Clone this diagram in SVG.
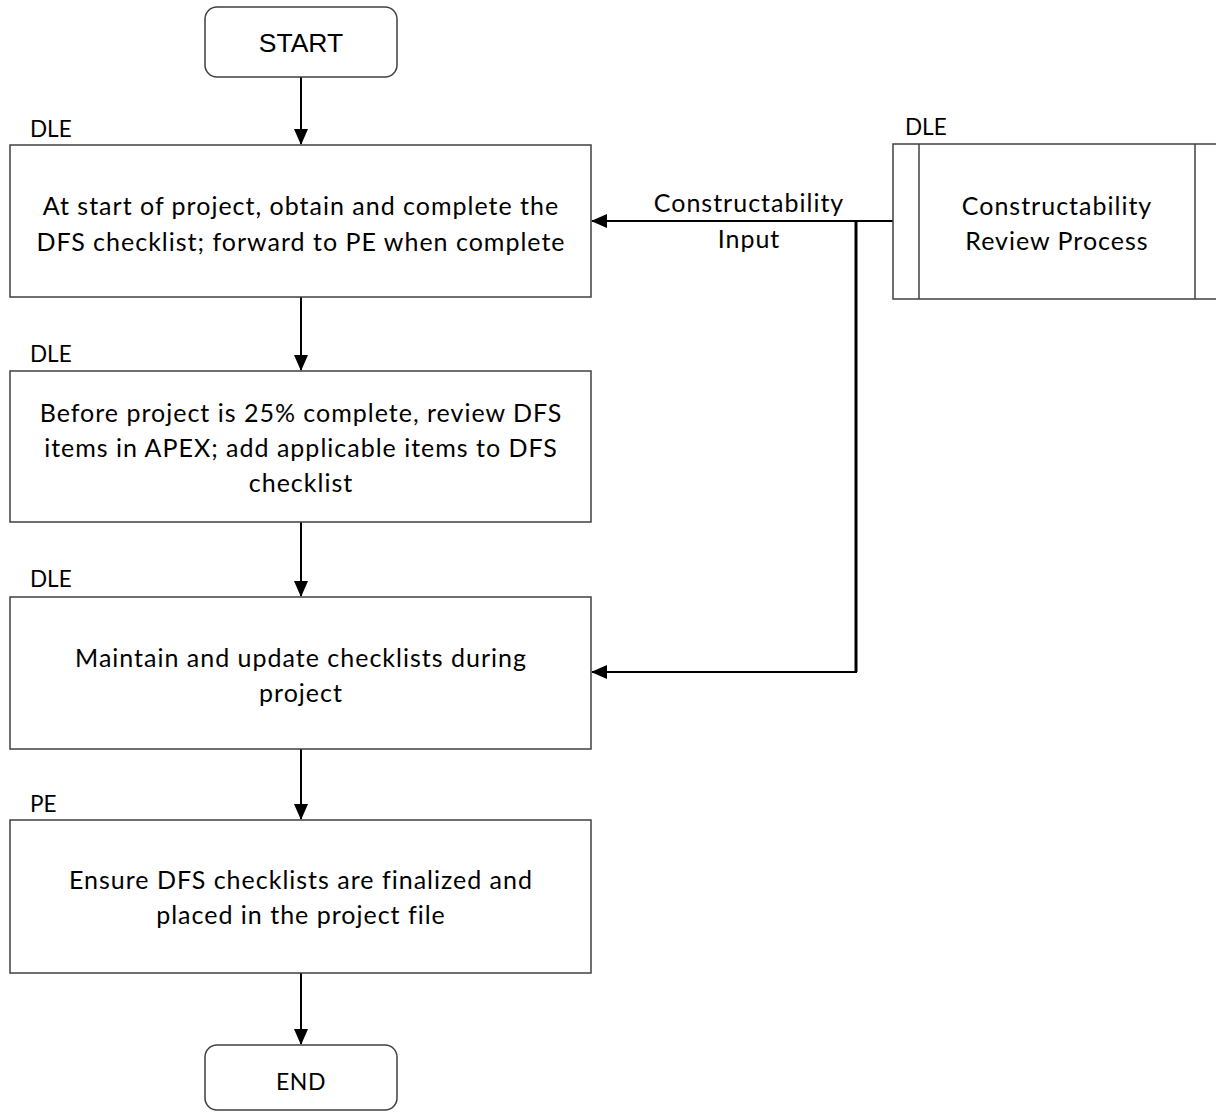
<svg xmlns="http://www.w3.org/2000/svg" width="1216" height="1112" viewBox="0 0 1216 1112">
<style>
.box{fill:#fff;stroke:#404040;stroke-width:1.5}
.t{font-family:Lato,"Liberation Sans",sans-serif;font-size:25px;letter-spacing:1px;fill:#000;text-anchor:middle}
.lbl{font-family:Lato,"Liberation Sans",sans-serif;font-size:22.5px;fill:#000}
.a{fill:none;stroke:#000;stroke-width:2}
.ts{font-family:"Liberation Sans",Arial,sans-serif;font-size:26.5px;fill:#000;text-anchor:middle}
</style>
<defs>
<marker id="ah" markerWidth="16" markerHeight="14" refX="15" refY="7" orient="auto" markerUnits="userSpaceOnUse">
<path d="M0,0 L16,7 L0,14 Z" fill="#000"/>
</marker>
</defs>
<g id="connectors">
<line class="a" x1="301" y1="77" x2="301" y2="144" marker-end="url(#ah)"/>
<line class="a" x1="301" y1="297" x2="301" y2="370" marker-end="url(#ah)"/>
<line class="a" x1="301" y1="522" x2="301" y2="596" marker-end="url(#ah)"/>
<line class="a" x1="301" y1="749" x2="301" y2="819" marker-end="url(#ah)"/>
<line class="a" x1="301" y1="973" x2="301" y2="1044" marker-end="url(#ah)"/>
<line class="a" x1="893" y1="221" x2="592" y2="221" marker-end="url(#ah)"/>
<polyline fill="none" stroke="#000" stroke-width="3" points="856,221 856,672"/>
<line class="a" x1="857" y1="672" x2="592" y2="672" marker-end="url(#ah)"/>
<text class="t" x="749" y="212">Constructability</text>
<text class="t" x="749" y="248">Input</text>
</g>
<g id="start">
<rect class="box" x="205" y="7" width="192" height="70" rx="12"/>
<text class="ts" x="301" y="52">START</text>
</g>
<g id="step1">
<text class="lbl" x="30" y="137">DLE</text>
<rect class="box" x="10" y="145" width="581" height="152"/>
<text class="t" x="301" y="215">At start of project, obtain and complete the</text>
<text class="t" x="301" y="251">DFS checklist; forward to PE when complete</text>
</g>
<g id="step2">
<text class="lbl" x="30" y="362">DLE</text>
<rect class="box" x="10" y="371" width="581" height="151"/>
<text class="t" x="301" y="422">Before project is 25% complete, review DFS</text>
<text class="t" x="301" y="457">items in APEX; add applicable items to DFS</text>
<text class="t" x="301" y="492">checklist</text>
</g>
<g id="step3">
<text class="lbl" x="30" y="587">DLE</text>
<rect class="box" x="10" y="597" width="581" height="152"/>
<text class="t" x="301" y="667">Maintain and update checklists during</text>
<text class="t" x="301" y="702">project</text>
</g>
<g id="step4">
<text class="lbl" x="30" y="812">PE</text>
<rect class="box" x="10" y="820" width="581" height="153"/>
<text class="t" x="301" y="889">Ensure DFS checklists are finalized and</text>
<text class="t" x="301" y="924">placed in the project file</text>
</g>
<g id="end">
<rect class="box" x="205" y="1045" width="192" height="65" rx="12"/>
<text class="t" x="301" y="1090" style="font-size:23px;letter-spacing:0.5px">END</text>
</g>
<g id="review">
<text class="lbl" x="905" y="135">DLE</text>
<rect class="box" x="893" y="144" width="340" height="155"/>
<line class="box" x1="919" y1="144" x2="919" y2="299"/>
<line class="box" x1="1195" y1="144" x2="1195" y2="299"/>
<text class="t" x="1057" y="215">Constructability</text>
<text class="t" x="1057" y="250">Review Process</text>
</g>
</svg>
